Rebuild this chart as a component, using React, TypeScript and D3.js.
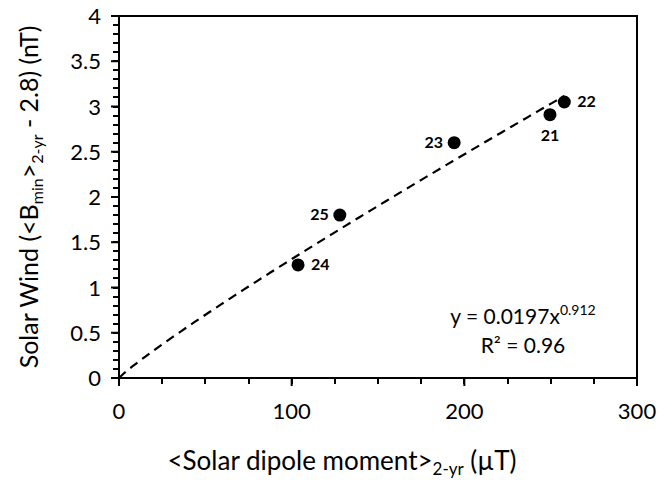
import * as d3 from "d3";

const cycles = ["21", "22", "23", "24", "25"];
const dipole = [249.6, 257.9, 194.1, 103.7, 127.9];
const solarWind = [2.91, 3.05, 2.6, 1.25, 1.8];
const labelPos = ["below", "right", "left", "right", "left"];

const fitA = 0.0197;
const fitB = 0.912;

const width = 672;
const height = 480;
const margin = { left: 119, right: 35, top: 16, bottom: 102 };
const font = "Lato, 'DejaVu Sans', sans-serif";

export default function App() {
  const x = d3.scaleLinear().domain([0, 300]).range([margin.left, width - margin.right]);
  const y = d3.scaleLinear().domain([0, 4]).range([height - margin.bottom, margin.top]);

  const xMajor = d3.range(0, 301, 100);
  const xMinor = d3.range(0, 301, 25);
  const yMajor = d3.range(0, 4.001, 0.5);
  const yMinor = d3.range(0, 4.001, 0.1);

  // power-law trendline, drawn from 0 up to the largest dipole value
  const xMax = d3.max(dipole) as number;
  const fitPts = d3.range(0, 101).map((i) => {
    const xv = (xMax * i) / 100;
    return [xv, fitA * Math.pow(xv, fitB)] as [number, number];
  });
  const fitLine = d3
    .line<[number, number]>()
    .x((d) => x(d[0]))
    .y((d) => y(d[1]));

  const x0 = x(0);
  const y0 = y(0);

  return (
    <svg
      width={width}
      height={height}
      style={{ position: "absolute", left: 0, top: 0, background: "white" }}
      fontFamily={font}
    >
      {/* plot frame */}
      <rect
        x={x(0)}
        y={y(4)}
        width={x(300) - x(0)}
        height={y(0) - y(4)}
        fill="none"
        stroke="black"
        strokeWidth={2}
      />

      {/* x ticks */}
      {xMinor.map((v) => (
        <line key={"xm" + v} x1={Math.round(x(v))} x2={Math.round(x(v))} y1={y0} y2={y0 + 6} stroke="black" strokeWidth={2} />
      ))}
      {xMajor.map((v) => (
        <g key={"xM" + v}>
          <line x1={x(v)} x2={x(v)} y1={y0} y2={y0 + 8} stroke="black" strokeWidth={2} />
          <text x={x(v)} y={y0 + 41} textAnchor="middle" fontSize={22}>
            {v}
          </text>
        </g>
      ))}

      {/* y ticks */}
      {yMinor.map((v) => (
        <line key={"ym" + v} x1={x0 - 6} x2={x0} y1={Math.round(y(v))} y2={Math.round(y(v))} stroke="black" strokeWidth={2} />
      ))}
      {yMajor.map((v) => (
        <g key={"yM" + v}>
          <line x1={x0 - 8} x2={x0} y1={y(v)} y2={y(v)} stroke="black" strokeWidth={2} />
          <text x={x0 - 18} y={y(v) + 8} textAnchor="end" fontSize={22}>
            {d3.format("~g")(v)}
          </text>
        </g>
      ))}

      {/* trendline */}
      <path
        d={fitLine(fitPts) || ""}
        fill="none"
        stroke="black"
        strokeWidth={2.2}
        strokeDasharray="9,6"
      />

      {/* points */}
      {cycles.map((c, i) => {
        const cx = x(dipole[i]);
        const cy = y(solarWind[i]);
        const pos = labelPos[i];
        let tx = cx;
        let ty = cy + 5;
        let anchor = "middle";
        if (pos === "right") {
          tx = cx + 13;
          anchor = "start";
        } else if (pos === "left") {
          tx = cx - 11;
          anchor = "end";
        } else if (pos === "below") {
          ty = cy + 26;
        }
        return (
          <g key={c}>
            <circle cx={cx} cy={cy} r={6.5} fill="black" />
            <text x={tx} y={ty} textAnchor={anchor} fontSize={16} fontWeight="bold">
              {c}
            </text>
          </g>
        );
      })}

      {/* equation */}
      <text x={523} y={324} textAnchor="middle" fontSize={21}>
        y = 0.0197x
        <tspan fontSize={14} dy={-9}>
          0.912
        </tspan>
      </text>
      <text x={523} y={353} textAnchor="middle" fontSize={21}>
        R² = 0.96
      </text>

      {/* x title */}
      <text x={342} y={470} textAnchor="middle" fontSize={26}>
        {"<Solar dipole moment>"}
        <tspan fontSize={17} dy={5}>
          2-yr
        </tspan>
        <tspan dy={-5}>{" (µT)"}</tspan>
      </text>

      {/* y title */}
      <text
        transform={`translate(38, ${(y(0) + y(4)) / 2}) rotate(-90)`}
        textAnchor="middle"
        fontSize={25}
      >
        {"Solar Wind (<B"}
        <tspan fontSize={16} dy={5}>
          min
        </tspan>
        <tspan dy={-5}>{">"}</tspan>
        <tspan fontSize={16} dy={5}>
          2-yr
        </tspan>
        <tspan dy={-5}>{"  - 2.8) (nT)"}</tspan>
      </text>
    </svg>
  );
}
